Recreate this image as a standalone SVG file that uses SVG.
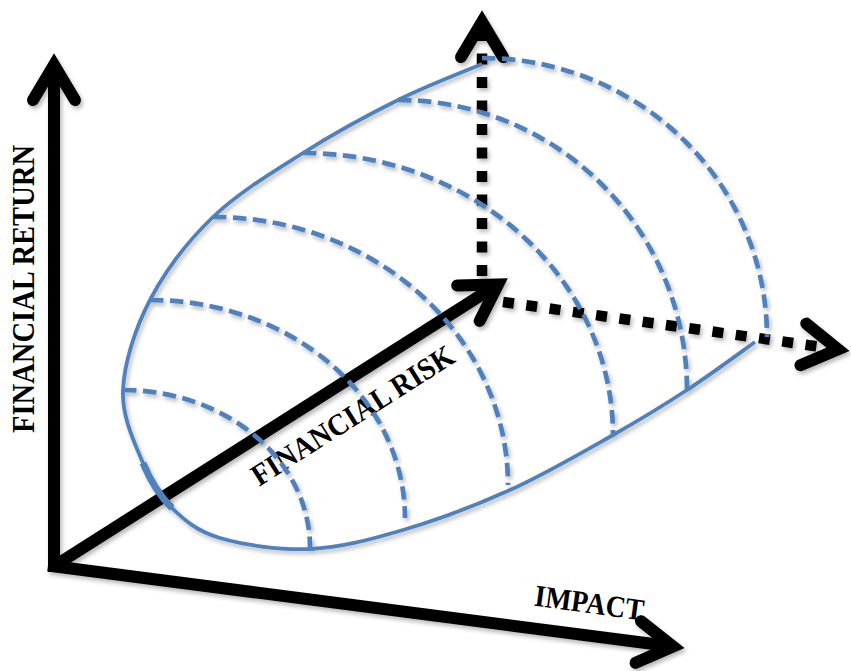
<svg xmlns="http://www.w3.org/2000/svg" width="851" height="671" viewBox="0 0 851 671">
<defs>
<style>
.ax{fill:none;stroke:#000;stroke-width:12;stroke-linecap:butt}
.dot{fill:none;stroke:#000;stroke-width:10.5;stroke-dasharray:11 12.5}
.sol{fill:none;stroke:#4F81BD;stroke-width:3.8}
.dash{fill:none;stroke:#4F81BD;stroke-width:4.7;stroke-dasharray:13.5 6.5}
.lbl{font-family:"Liberation Serif","Times New Roman",serif;font-weight:bold;fill:#000}
</style>
<marker id="chev" markerUnits="userSpaceOnUse" markerWidth="90" markerHeight="90" viewBox="-45 -45 90 90" refX="0" refY="0" orient="auto" overflow="visible">
<path d="M-35,-21 L0,0 L-35,21" fill="none" stroke="#000" stroke-width="12" stroke-linecap="round" stroke-linejoin="miter"/>
</marker>
<filter id="sh" filterUnits="userSpaceOnUse" x="0" y="0" width="851" height="671">
<feDropShadow dx="2" dy="3" stdDeviation="2" flood-color="#000" flood-opacity="0.28"/>
</filter>
</defs>
<rect width="851" height="671" fill="#fff"/>
<g id="connectors" filter="url(#sh)">
<path id="axis-return" class="ax" d="M54,572 L54,65" marker-end="url(#chev)"/>
<path id="axis-impact" class="ax" d="M48,565.5 L673,646.5" marker-end="url(#chev)"/>
<path id="axis-risk" class="ax" d="M52,567.5 L498,284.4" marker-end="url(#chev)"/>
<path id="dot-up" class="dot" d="M482,276 L482,22" marker-end="url(#chev)"/>
<path id="dot-right" class="dot" d="M503,302 L838,349.3" marker-end="url(#chev)"/>
</g>
<g id="labels">
<text class="lbl" font-size="32" textLength="288" lengthAdjust="spacingAndGlyphs" text-anchor="middle" transform="translate(34,289) rotate(-90)">FINANCIAL RETURN</text>
<text class="lbl" font-size="30.5" textLength="234" lengthAdjust="spacingAndGlyphs" text-anchor="middle" transform="translate(358,424) rotate(-32.4)">FINANCIAL RISK</text>
<text class="lbl" font-size="30.5" textLength="110" lengthAdjust="spacingAndGlyphs" text-anchor="middle" transform="translate(588,613) rotate(7.8)">IMPACT</text>
</g>
<g id="surface" filter="url(#sh)">
<path id="outline" class="sol" d="M482,64 C468,70 427.8,85.2 398,100 C368.2,114.8 333.8,133.5 303,153 C272.2,172.5 238.5,192.5 213,217 C187.5,241.5 165,271.2 150,300 C135,328.8 124.2,362.8 123,390 C121.8,417.2 134.8,443.3 143,463 C151.2,482.7 159.2,495.5 172,508 C184.8,520.5 197,531.2 220,538 C243,544.8 279.5,550.3 310,549 C340.5,547.7 369.7,539.8 403,530 C436.3,520.2 475,505.8 510,490 C545,474.2 583.5,451.7 613,435 C642.5,418.3 663.3,405.5 687,390 C710.7,374.5 743.7,350 755,342"/>
<path id="outline-thick" fill="none" stroke="#4F81BD" stroke-width="7" d="M143,463 C151.2,482.7 159.2,495.5 172,508"/>
<path id="arc1" class="dash" d="M482,58 A285,279 0 0 1 767,337"/>
<path id="arc2" class="dash" d="M398,100 A289,290 0 0 1 687,390"/>
<path id="arc3" class="dash" d="M303,153 A310,282 0 0 1 613,435"/>
<path id="arc4" class="dash" d="M213,217 A295,268 0 0 1 508,485"/>
<path id="arc5" class="dash" d="M150,300 A255,218 0 0 1 405,518"/>
<path id="arc6" class="dash" d="M123,390 A187,157 0 0 1 310,547"/>
</g>
</svg>
